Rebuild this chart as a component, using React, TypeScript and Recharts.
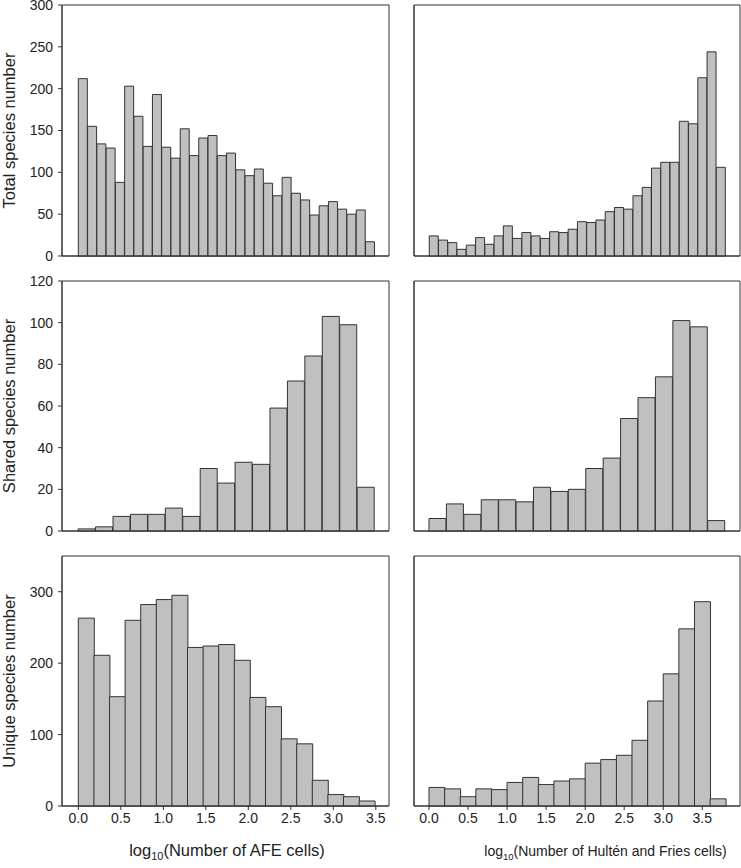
import { BarChart, Bar, XAxis, YAxis, ReferenceArea, Label } from 'recharts';

// counts per bin (left = AFE, right = Hultén & Fries)
const afeTotal = [212, 155, 134, 129, 88, 203, 167, 131, 193, 130, 117, 152, 120, 141, 144, 120, 123, 103, 96, 104, 87, 72, 94, 75, 67, 49, 60, 65, 56, 50, 55, 17];
const hfTotal = [24, 19, 16, 8, 13, 22, 14, 24, 36, 21, 28, 24, 21, 29, 28, 32, 41, 40, 43, 53, 58, 56, 72, 82, 105, 112, 112, 161, 158, 213, 244, 106];
const afeShared = [1, 2, 7, 8, 8, 11, 7, 30, 23, 33, 32, 59, 72, 84, 103, 99, 21];
const hfShared = [6, 13, 8, 15, 15, 14, 21, 19, 20, 30, 35, 54, 64, 74, 101, 98, 5];
const afeUnique = [263, 211, 153, 260, 282, 289, 295, 222, 224, 226, 204, 152, 139, 94, 87, 36, 16, 13, 7];
const hfUnique = [26, 24, 13, 24, 23, 33, 40, 30, 35, 38, 60, 65, 71, 92, 147, 185, 248, 286, 10];

const xTicks = [0.5, 1.0, 1.5, 2.0, 2.5, 3.0, 3.5];
const xTicksLabelled = [0.0, 0.5, 1.0, 1.5, 2.0, 2.5, 3.0, 3.5];
const totalTicks = [0, 50, 100, 150, 200, 250, 300];
const sharedTicks = [0, 20, 40, 60, 80, 100, 120];
const uniqueTicks = [0, 100, 200, 300];

const yLabels = ['Total species number', 'Shared species number', 'Unique species number'];
const xLabels = ['(Number of AFE cells)', '(Number of Hultén and Fries cells)'];

const FONT = '"Liberation Sans", Arial, Helvetica, sans-serif';
const INK = '#222';
const EDGE = '#333';

const cols = [
  { left: 0, width: 395, axisW: 62, right: 6, xLabelX: 227, xLabelSize: 16.5, subSize: 11 },
  { left: 395, width: 346, axisW: 19, right: 1, xLabelX: 605.5, xLabelSize: 14, subSize: 9.5 },
];
const rows = [
  { top: 0, pad: 5, plotH: 251, axisH: 10, yDomain: [0, 300], yTicks: totalTicks },
  { top: 266, pad: 15, plotH: 250, axisH: 10, yDomain: [0, 120], yTicks: sharedTicks },
  { top: 541, pad: 15, plotH: 250, axisH: 62, yDomain: [0, 350], yTicks: uniqueTicks },
];

const panels = [
  { row: 0, col: 0, counts: afeTotal, binStart: 0.3, binWidth: 0.1009, xDomain: [0.122, 3.684], ticks: xTicks },
  { row: 0, col: 1, counts: hfTotal, binStart: 0.3, binWidth: 0.1043, xDomain: [0.128, 3.8], ticks: xTicks },
  { row: 1, col: 0, counts: afeShared, binStart: 0.2, binWidth: 0.2, xDomain: [0.015, 3.765], ticks: xTicks },
  { row: 1, col: 1, counts: hfShared, binStart: 0.4, binWidth: 0.2, xDomain: [0.228, 3.971], ticks: xTicks },
  { row: 2, col: 0, counts: afeUnique, binStart: 0, binWidth: 0.1835, xDomain: [-0.192, 3.655], ticks: xTicksLabelled },
  { row: 2, col: 1, counts: hfUnique, binStart: 0, binWidth: 0.2, xDomain: [-0.192, 3.983], ticks: xTicksLabelled },
];

function Panel({ p }: { p: any }) {
  const c = cols[p.col];
  const r = rows[p.row];
  const data = p.counts.map((n: number, i: number) => ({ x: p.binStart + (i + 0.5) * p.binWidth, n }));
  const height = r.pad + r.plotH + r.axisH;
  const bottomRow = p.row === 2;
  const leftCol = p.col === 0;

  return (
    <div style={{ position: 'absolute', left: c.left, top: r.top }}>
      <BarChart
        width={c.width}
        height={height}
        data={data}
        margin={{ top: r.pad, right: c.right, bottom: 0, left: 0 }}
        barCategoryGap={0}
        barGap={0}
      >
        <XAxis
          type="number"
          dataKey="x"
          domain={p.xDomain}
          allowDataOverflow
          ticks={p.ticks}
          interval={0}
          height={r.axisH}
          tickSize={4}
          tickMargin={3}
          axisLine={{ stroke: EDGE }}
          tickLine={{ stroke: EDGE }}
          tick={bottomRow ? { fill: INK, fontSize: 14, fontFamily: FONT } : false}
          tickFormatter={(v: number) => v.toFixed(1)}
        >
          {bottomRow && (
            <Label
              content={(props: any) => {
                const vb = props.viewBox || { y: 0 };
                return (
                  <text x={c.xLabelX - c.left} y={vb.y + 50} textAnchor="middle" fill={INK} fontSize={c.xLabelSize} fontFamily={FONT}>
                    log<tspan fontSize={c.subSize} dy={4}>10</tspan>
                    <tspan dy={-4}>{xLabels[p.col]}</tspan>
                  </text>
                );
              }}
            />
          )}
        </XAxis>
        <YAxis
          type="number"
          domain={r.yDomain}
          ticks={r.yTicks}
          interval={0}
          width={c.axisW}
          tickSize={4}
          tickMargin={5}
          axisLine={{ stroke: EDGE }}
          tickLine={{ stroke: EDGE }}
          tick={leftCol ? { fill: INK, fontSize: 14, fontFamily: FONT } : false}
        >
          {leftCol && (
            <Label
              content={(props: any) => {
                const vb = props.viewBox || { y: 0, height: 0 };
                const cy = vb.y + vb.height / 2;
                return (
                  <text x={15} y={cy} transform={`rotate(-90 15 ${cy})`} textAnchor="middle" fill={INK} fontSize={16.5} fontFamily={FONT}>
                    {yLabels[p.row]}
                  </text>
                );
              }}
            />
          )}
        </YAxis>
        <ReferenceArea
          x1={p.xDomain[0]}
          x2={p.xDomain[1]}
          y1={r.yDomain[0]}
          y2={r.yDomain[1]}
          fill="none"
          fillOpacity={0}
          stroke={EDGE}
          strokeWidth={1}
          ifOverflow="visible"
        />
        <Bar dataKey="n" fill="#c0c0c0" stroke={EDGE} strokeWidth={1} isAnimationActive={false} />
      </BarChart>
    </div>
  );
}

export default function App() {
  return (
    <div style={{ position: 'absolute', left: 0, top: 0, width: 741, height: 868, background: '#fff', fontFamily: FONT }}>
      {panels.map((p, i) => (
        <Panel key={i} p={p} />
      ))}
    </div>
  );
}
